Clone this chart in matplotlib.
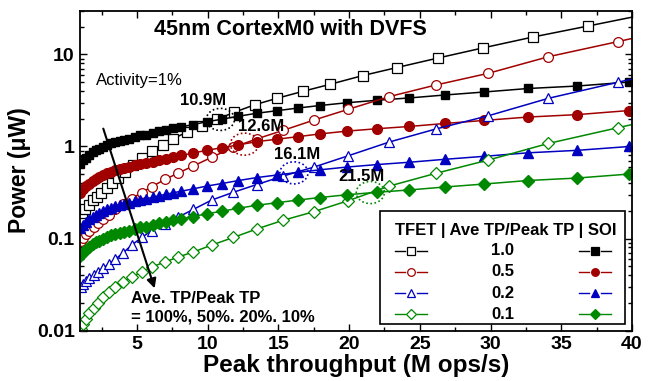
import matplotlib
matplotlib.use('Agg')
import matplotlib.pyplot as plt
from matplotlib.patches import Ellipse, Rectangle
from matplotlib.ticker import MultipleLocator, LogLocator, NullFormatter, FixedLocator, FixedFormatter

plt.rcParams['font.family'] = ['Liberation Sans', 'DejaVu Sans']
plt.rcParams['font.weight'] = 'bold'
plt.rcParams['axes.labelweight'] = 'bold'

# SOI sweep (filled markers), peak throughput in M ops/s, power in uW
soi_x = [1.0, 1.18, 1.40, 1.61, 1.86, 2.10, 2.35, 2.60, 2.88, 3.16, 3.45, 3.77, 4.08,
         4.44, 4.83, 5.21, 5.64, 6.10, 6.56, 7.05, 7.55, 8.11, 8.96, 9.95, 11.01, 12.15,
         13.49, 14.90, 16.39, 17.94, 19.85, 21.97, 24.24, 26.78, 29.54, 32.65, 36.11, 39.80]
soi_10 = [0.645, 0.705, 0.759, 0.808, 0.861, 0.905, 0.951, 0.988, 1.04, 1.08, 1.12, 1.15,
          1.19, 1.22, 1.27, 1.32, 1.35, 1.40, 1.46, 1.51, 1.57, 1.63, 1.73, 1.86, 1.98,
          2.13, 2.30, 2.45, 2.62, 2.79, 2.99, 3.18, 3.37, 3.63, 3.91, 4.27, 4.54, 5.02]
soi_05 = [0.316, 0.345, 0.372, 0.396, 0.422, 0.443, 0.466, 0.484, 0.510, 0.529, 0.549,
          0.564, 0.583, 0.598, 0.622, 0.647, 0.662, 0.686, 0.715, 0.740, 0.769, 0.799,
          0.848, 0.911, 0.970, 1.04, 1.13, 1.20, 1.28, 1.37, 1.47, 1.56, 1.65, 1.78, 1.92,
          2.09, 2.22, 2.46]
soi_02 = [0.129, 0.141, 0.152, 0.162, 0.172, 0.181, 0.190, 0.198, 0.208, 0.216, 0.224,
          0.230, 0.238, 0.244, 0.254, 0.264, 0.270, 0.280, 0.292, 0.302, 0.314, 0.326,
          0.346, 0.372, 0.396, 0.426, 0.460, 0.490, 0.524, 0.558, 0.598, 0.636, 0.674,
          0.726, 0.782, 0.854, 0.908, 1.00]
soi_01 = [0.0645, 0.0705, 0.0759, 0.0808, 0.0861, 0.0905, 0.0951, 0.0988, 0.104, 0.108,
          0.112, 0.115, 0.119, 0.122, 0.127, 0.132, 0.135, 0.140, 0.146, 0.151, 0.157,
          0.163, 0.173, 0.186, 0.198, 0.213, 0.230, 0.245, 0.262, 0.279, 0.299, 0.318,
          0.337, 0.363, 0.391, 0.427, 0.454, 0.502]

# TFET sweep (open markers)
tfet_x_10 = [1.08, 1.33, 1.61, 1.89, 2.17, 2.49, 2.85, 3.23, 3.66, 4.15, 4.72, 5.36, 6.06,
             6.84, 7.55, 8.54, 9.60, 10.66, 11.86, 13.35, 14.90, 16.74, 18.65, 20.98,
             23.39, 26.29, 29.47, 33.01, 36.90, 40.93]
tfet_10 = [0.189, 0.209, 0.231, 0.259, 0.286, 0.316, 0.354, 0.401, 0.455, 0.528, 0.622,
           0.741, 0.883, 1.04, 1.21, 1.44, 1.69, 1.97, 2.35, 2.85, 3.34, 3.98, 4.74, 5.91,
           7.22, 9.16, 11.8, 15.5, 20.4, 27.2]
tfet_x = [1.01, 1.18, 1.40, 1.64, 1.93, 2.24, 2.60, 3.02, 3.48, 4.01, 4.63, 5.34, 6.04,
          6.98, 7.92, 8.98, 10.29, 11.81, 13.47, 15.35, 17.52, 19.95, 22.85, 26.13, 29.85,
          34.09, 39.0, 44.6]
tfet_05 = [0.0940, 0.1025, 0.112, 0.122, 0.133, 0.147, 0.163, 0.182, 0.207, 0.237, 0.272,
           0.316, 0.366, 0.438, 0.515, 0.614, 0.764, 0.980, 1.21, 1.50, 1.94, 2.54, 3.49,
           4.66, 6.25, 9.46, 13.8, 21.5]
tfet_02 = [0.0297, 0.0320, 0.0345, 0.0372, 0.0401, 0.0433, 0.0478, 0.0528, 0.0598, 0.0695,
           0.0849, 0.1026, 0.122, 0.144, 0.171, 0.207, 0.262, 0.318, 0.386, 0.478, 0.598,
           0.794, 1.12, 1.55, 2.16, 3.34, 4.99, 7.88]
tfet_01 = [0.01038, 0.01177, 0.01334, 0.01531, 0.01757, 0.02015, 0.02285, 0.0262, 0.0297,
           0.0337, 0.0382, 0.0433, 0.0490, 0.0556, 0.0630, 0.0713, 0.0849, 0.1026, 0.127,
           0.158, 0.196, 0.258, 0.372, 0.511, 0.713, 1.08, 1.60, 2.49]

ratios = ['1.0', '0.5', '0.2', '0.1']
colors = ['black', '#a00000', '#0000c0', '#008800']
markers = ['s', 'o', '^', 'D']
msize_open = [6.5, 7, 7, 6.5]
msize_fill = [6, 7, 7, 6.5]

cross_x = [10.9, 12.6, 16.1, 21.5]
cross_y = [1.97, 1.06, 0.517, 0.316]
cross_labels = ['10.9M', '12.6M', '16.1M', '21.5M']
label_offsets = [(-17, 19), (17, 18), (3, 18), (-9, 16)]

fig = plt.figure(figsize=(6.54, 3.81), dpi=100)
ax = fig.add_axes([0.1229, 0.1325, 0.8435, 0.8397])

soi_sets = [soi_10, soi_05, soi_02, soi_01]
tfet_sets = [(tfet_x_10, tfet_10), (tfet_x, tfet_05), (tfet_x, tfet_02), (tfet_x, tfet_01)]

for i in range(4):
    tx, ty = tfet_sets[i]
    ax.plot(tx, ty, color=colors[i], lw=1.1, marker=markers[i], ms=msize_open[i],
            mfc='white', mec=colors[i], mew=0.9)
    ax.plot(soi_x, soi_sets[i], color=colors[i], lw=1.1, marker=markers[i],
            ms=msize_fill[i], mfc=colors[i], mec=colors[i])

ax.set_yscale('log')
ax.set_xlim(1, 40)
ax.set_ylim(0.01, 30)

ax.xaxis.set_major_locator(FixedLocator([5, 10, 15, 20, 25, 30, 35, 40]))
ax.xaxis.set_minor_locator(MultipleLocator(2.5))
ax.yaxis.set_major_locator(FixedLocator([0.01, 0.1, 1, 10]))
ax.yaxis.set_major_formatter(FixedFormatter(['0.01', '0.1', '1', '10']))
ax.yaxis.set_minor_locator(LogLocator(base=10, subs=range(2, 10)))
ax.yaxis.set_minor_formatter(NullFormatter())

ax.tick_params(which='both', direction='in', top=True, right=True, width=1)
ax.tick_params(which='major', length=5, labelsize=14, pad=4)
ax.tick_params(which='minor', length=3)
for s in ax.spines.values():
    s.set_linewidth(1.3)

ax.set_xlabel('Peak throughput (M ops/s)', fontsize=17.5, fontweight='bold', labelpad=1)
ax.set_ylabel('Power (\u03bcW)', fontsize=16.5, fontweight='bold', labelpad=4)

ax.text(0.38, 0.94, '45nm CortexM0 with DVFS', transform=ax.transAxes,
        ha='center', va='center', fontsize=15.5)
ax.text(0.028, 0.78, 'Activity=1%', transform=ax.transAxes, ha='left', va='center',
        fontsize=12, fontweight='normal')

# crossover markers
for cx, cy, lab, off, c in zip(cross_x, cross_y, cross_labels, label_offsets, colors):
    px, py = ax.transAxes.inverted().transform(ax.transData.transform((cx, cy)))
    ax.add_patch(Ellipse((px, py), 0.051, 0.069, transform=ax.transAxes, fill=False,
                         ec=c, ls=(0, (1, 1.5)), lw=1.2, zorder=5))
    ax.annotate(lab, (cx, cy), xytext=off, textcoords='offset pixels',
                ha='center', va='center', fontsize=12)

# arrow across the ratio sweep
ax.annotate('', xy=(6.31, 0.0269), xytext=(2.56, 1.67),
            arrowprops=dict(arrowstyle='-|>', lw=1.5, color='black', mutation_scale=14))
ax.text(0.091, 0.100, 'Ave. TP/Peak TP', transform=ax.transAxes, ha='left',
        va='center', fontsize=12)
ax.text(0.091, 0.042, '= 100%, 50%. 20%. 10%', transform=ax.transAxes, ha='left',
        va='center', fontsize=12)

# table-style legend
ax.add_patch(Rectangle((0.543, 0.020), 0.444, 0.355, transform=ax.transAxes,
                       fc='white', ec='black', lw=1.2, zorder=6))
ax.text(0.772, 0.314, 'TFET | Ave TP/Peak TP | SOI', transform=ax.transAxes,
        ha='center', va='center', fontsize=12, zorder=7)
row_y = [0.2495, 0.1838, 0.1163, 0.0516]
for i in range(4):
    y = row_y[i]
    for xc, fill in [(0.599, 'white'), (0.933, colors[i])]:
        for a, b in [(xc - 0.029, xc - 0.011), (xc + 0.011, xc + 0.029)]:
            ax.plot([a, b], [y, y], color=colors[i], lw=1, transform=ax.transAxes,
                    zorder=7, clip_on=False)
        ax.plot([xc], [y], marker=markers[i], ms=5.5, mfc=fill,
                mec=colors[i], mew=0.9, transform=ax.transAxes, zorder=7, clip_on=False)
    ax.text(0.766, y, ratios[i], transform=ax.transAxes, ha='center', va='center',
            fontsize=12, zorder=7)

fig.savefig('out.png', dpi=100)
